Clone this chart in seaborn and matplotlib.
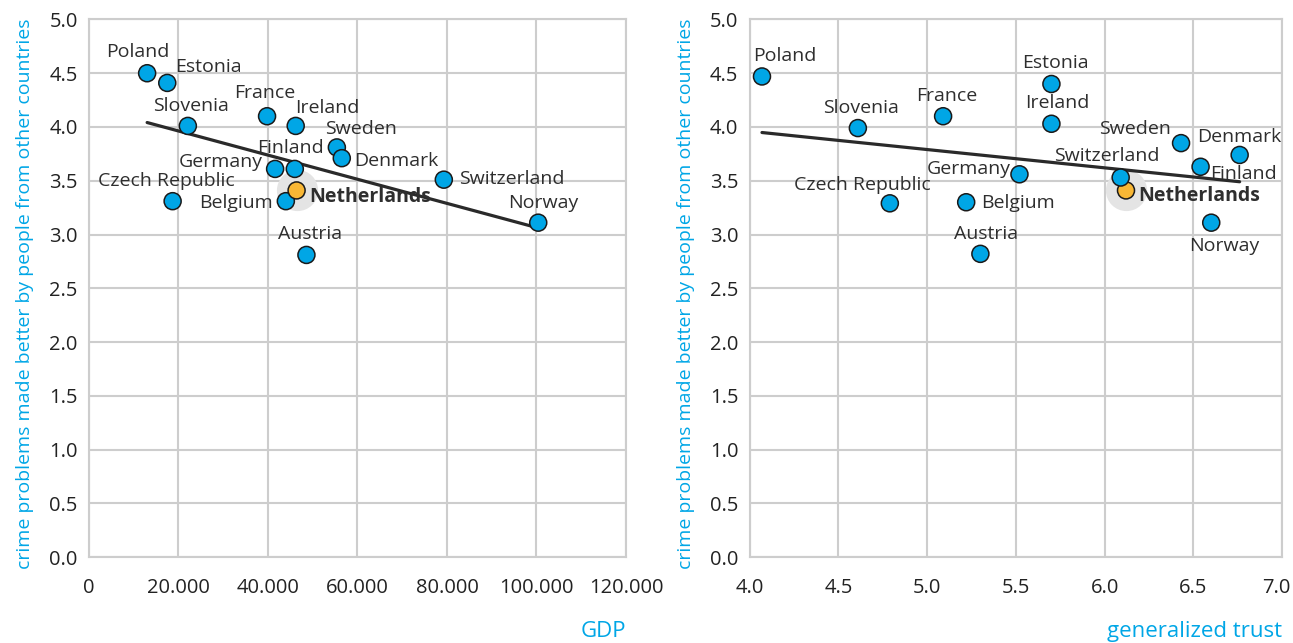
"""
Crime problems made better by people from other countries,
against GDP and against generalized trust.
"""

import matplotlib
matplotlib.use("Agg")
import matplotlib.pyplot as plt
import matplotlib.transforms as mtransforms
import numpy as np
import pandas as pd
import seaborn as sns

countries = [
    "Poland", "Estonia", "Slovenia", "France", "Ireland", "Sweden", "Denmark",
    "Finland", "Germany", "Czech Republic", "Belgium", "Netherlands",
    "Austria", "Switzerland", "Norway",
]
gdp = [13000, 17500, 22100, 39800, 46200, 55400, 56500,
       46000, 41600, 18700, 44000, 46400, 48600, 79300, 100400]
crime_gdp = [4.50, 4.41, 4.01, 4.10, 4.01, 3.81, 3.71,
             3.61, 3.61, 3.31, 3.31, 3.41, 2.81, 3.51, 3.11]
trust = [4.07, 5.70, 4.61, 5.09, 5.70, 6.43, 6.76,
         6.54, 5.52, 4.79, 5.22, 6.12, 5.30, 6.09, 6.60]
crime_trust = [4.47, 4.40, 3.99, 4.10, 4.03, 3.85, 3.74,
               3.63, 3.56, 3.29, 3.30, 3.41, 2.82, 3.53, 3.11]

gdp_ticks = [0, 20000, 40000, 60000, 80000, 100000, 120000]
trust_ticks = [4.0, 4.5, 5.0, 5.5, 6.0, 6.5, 7.0]
y_ticks = [0.0, 0.5, 1.0, 1.5, 2.0, 2.5, 3.0, 3.5, 4.0, 4.5, 5.0]

HIGHLIGHT = "Netherlands"
BLUE = "#00a6e6"
ORANGE = "#f8b735"
TEXT = "#2e2e2e"
GRID = "#cdcdcd"

# label placement: offset from the dot in pixels (x right, y down) and alignment
offsets_gdp = {
    "Poland": (-9, -21, "center"), "Estonia": (8, -16, "left"),
    "Slovenia": (3, -20, "center"), "France": (-2, -23, "center"),
    "Ireland": (-1, -18, "left"), "Sweden": (24, -18, "center"),
    "Denmark": (12, 3, "left"), "Finland": (-4, -21, "center"),
    "Germany": (-12, -7, "right"), "Czech Republic": (-6, -20, "center"),
    "Belgium": (-13, 2, "right"), "Netherlands": (13, 7, "left"),
    "Austria": (4, -21, "center"), "Switzerland": (15, -1, "left"),
    "Norway": (5, -20, "center"),
}
offsets_trust = {
    "Poland": (23, -20, "center"), "Estonia": (4, -21, "center"),
    "Slovenia": (3, -20, "center"), "France": (4, -20, "center"),
    "Ireland": (6, -21, "center"), "Sweden": (-10, -14, "right"),
    "Denmark": (0, -18, "center"), "Finland": (10, 7, "left"),
    "Germany": (-9, -5, "right"), "Czech Republic": (-27, -18, "center"),
    "Belgium": (15, 1, "left"), "Netherlands": (12, 6, "left"),
    "Austria": (6, -20, "center"), "Switzerland": (-14, -22, "center"),
    "Norway": (13, 23, "center"),
}

sns.set_theme(style="whitegrid")
plt.rcParams["font.family"] = ["Open Sans", "DejaVu Sans"]

fig = plt.figure(figsize=(12.93, 6.43), dpi=100)
ax1 = fig.add_axes([0.0688, 0.1337, 0.4153, 0.836])
ax2 = fig.add_axes([0.5797, 0.1337, 0.4120, 0.836])


def draw_panel(ax, xcol, ycol, xvals, yvals, offsets, xticks, xticklabels, xlabel):
    df = pd.DataFrame({"country": countries, xcol: xvals, ycol: yvals})
    df["group"] = np.where(df["country"] == HIGHLIGHT, "nl", "other")
    hl = df[df["group"] == "nl"]

    # grey halo behind the highlighted country
    ax.scatter(hl[xcol], hl[ycol], s=880, color="#e4e4e4", linewidths=0, zorder=2)
    sns.regplot(
        x=xcol, y=ycol, data=df, ax=ax, scatter=False, ci=None,
        line_kws={"color": "#2a2a2a", "linewidth": 2.3, "zorder": 3},
    )
    sns.scatterplot(
        x=xcol, y=ycol, data=df, hue="group",
        palette={"other": BLUE, "nl": ORANGE}, s=150,
        edgecolor="#1a1a1a", linewidth=1.1, legend=False, ax=ax, zorder=4,
    )
    for _, row in df.iterrows():
        dx, dy, ha = offsets[row["country"]]
        ax.annotate(
            row["country"], (row[xcol], row[ycol]),
            xytext=(dx * 0.72, -dy * 0.72), textcoords="offset points",
            ha=ha, va="center", fontsize=14, color=TEXT,
            fontweight="bold" if row["country"] == HIGHLIGHT else "normal",
            zorder=5,
        )

    ax.set_xlim(xticks[0], xticks[-1])
    ax.set_ylim(0, 5)
    ax.set_xticks(xticks)
    ax.set_xticklabels(xticklabels)
    ax.set_yticks(y_ticks)
    ax.set_yticklabels([f"{v:.1f}" for v in y_ticks])
    ax.tick_params(axis="x", length=0, pad=15, labelsize=14.5, labelcolor="#222222")
    ax.tick_params(axis="y", length=0, pad=8, labelsize=14.5, labelcolor="#222222")
    ax.grid(True, color=GRID, linewidth=1.5)
    for sp in ax.spines.values():
        sp.set_color(GRID)
        sp.set_linewidth(1.5)
    ax.set_xlabel(xlabel, fontsize=16, color=BLUE, ha="right", va="center")
    ax.xaxis.set_label_coords(1.0, -0.138)
    ax.set_ylabel("crime problems made better by people from other countries",
                  fontsize=14, color=BLUE, va="center")
    ax.yaxis.set_label_coords(-0.12, 0.49)


draw_panel(ax1, "GDP", "crime", gdp, crime_gdp, offsets_gdp, gdp_ticks,
           [f"{v:,}".replace(",", ".") for v in gdp_ticks], "GDP")
draw_panel(ax2, "trust", "crime", trust, crime_trust, offsets_trust, trust_ticks,
           [f"{v:.1f}" for v in trust_ticks], "generalized trust")

# keep the last tick label of the right panel inside the figure
last = ax2.get_xticklabels()[-1]
last.set_transform(last.get_transform()
                   + mtransforms.ScaledTranslation(-6 / 100, 0, fig.dpi_scale_trans))

fig.savefig("out.png", dpi=100, facecolor="white")
